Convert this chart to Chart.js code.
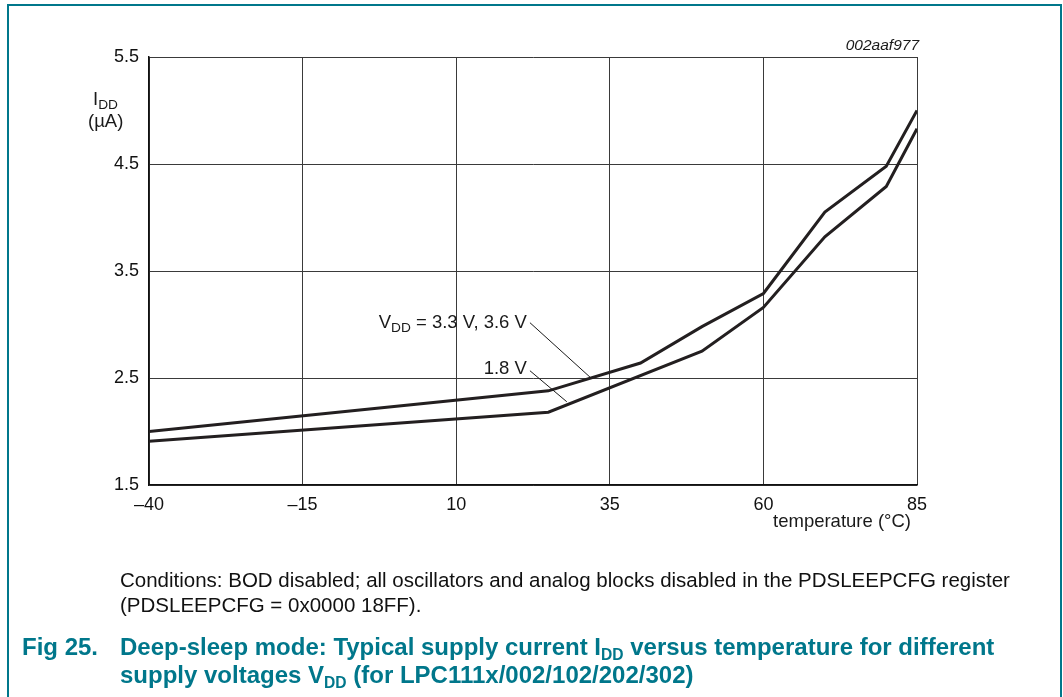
<!DOCTYPE html>
<html>
<head>
<meta charset="utf-8">
<script src="https://cdn.jsdelivr.net/npm/chart.js@4.4.1/dist/chart.umd.min.js"></script>
<style>
  body { margin: 0; background: #fff; font-family: "Liberation Sans", Arial, sans-serif; }
  #wrap { position: relative; width: 1063px; height: 697px; overflow: hidden; }
  #frame { position: absolute; left: 7px; top: 4px; width: 1055px; height: 720px;
           border: 2px solid #00778b; border-bottom: none; box-sizing: border-box; }
  #c { position: absolute; left: 0; top: 0; }
  .note { position: absolute; left: 120px; font-size: 20.5px; line-height: 25px; color: #111; white-space: nowrap; }
  .cap { position: absolute; font-size: 24px; line-height: 28px; font-weight: bold; color: #00778b; white-space: nowrap; }
  .cap sub { font-size: 65%; vertical-align: -0.35em; line-height: 0; }
</style>
</head>
<body>
<div id="wrap">
  <div id="frame"></div>
  <canvas id="c" width="1063" height="697"></canvas>
  <div class="note" style="top:567px">Conditions: BOD disabled; all oscillators and analog blocks disabled in the PDSLEEPCFG register<br>(PDSLEEPCFG = 0x0000 18FF).</div>
  <div class="cap" style="left:22px;top:633px">Fig 25.</div>
  <div class="cap" style="left:120px;top:633px">Deep-sleep mode: Typical supply current I<sub>DD</sub> versus temperature for different<br>supply voltages V<sub>DD</sub> (for LPC111x/002/102/202/302)</div>
</div>
<script>
// temperature (degC) and supply current (uA)
var temps33 = [-40, 25, 40, 50, 60, 70, 80, 85];
var idd33 = [2.0, 2.38, 2.64, 2.98, 3.29, 4.05, 4.48, 5.0];
var temps18 = [-40, 25, 50, 60, 70, 80, 85];
var idd18 = [1.91, 2.18, 2.75, 3.16, 3.82, 4.29, 4.83];

var xTicks = [-40, -15, 10, 35, 60, 85];
var yTicks = [1.5, 2.5, 3.5, 4.5, 5.5];

var lineColor = '#231f20';
var font = '"Liberation Sans", Arial, sans-serif';

function toPoints(xs, ys) {
  return xs.map(function (x, i) { return { x: x, y: ys[i] }; });
}

// text with a subscript part, right or left aligned at (x, y) baseline
function subText(ctx, parts, x, y, align, size) {
  var w = 0;
  parts.forEach(function (p) {
    ctx.font = (p.sub ? size * 0.74 : size) + 'px ' + font;
    p.w = ctx.measureText(p.t).width;
    w += p.w;
  });
  var cx = align === 'right' ? x - w : x;
  ctx.textAlign = 'left';
  ctx.textBaseline = 'alphabetic';
  parts.forEach(function (p) {
    ctx.font = (p.sub ? size * 0.74 : size) + 'px ' + font;
    ctx.fillText(p.t, cx, p.sub ? y + 4 : y);
    cx += p.w;
  });
}

var labelsPlugin = {
  id: 'labels',
  afterDatasetsDraw: function (chart) {
    var ctx = chart.ctx;
    var xs = chart.scales.x, ys = chart.scales.y;
    ctx.save();
    ctx.fillStyle = '#1a1a1a';
    ctx.strokeStyle = '#1a1a1a';
    ctx.lineWidth = 1;

    // curve labels with leader lines
    subText(ctx, [{ t: 'V' }, { t: 'DD', sub: true }, { t: ' = 3.3 V, 3.6 V' }],
      xs.getPixelForValue(21.5), ys.getPixelForValue(2.967), 'right', 18.5);
    subText(ctx, [{ t: '1.8 V' }],
      xs.getPixelForValue(21.5), ys.getPixelForValue(2.537), 'right', 18.5);
    ctx.beginPath();
    ctx.moveTo(xs.getPixelForValue(22.0), ys.getPixelForValue(3.017));
    ctx.lineTo(xs.getPixelForValue(31.8), ys.getPixelForValue(2.507));
    ctx.moveTo(xs.getPixelForValue(22.0), ys.getPixelForValue(2.568));
    ctx.lineTo(xs.getPixelForValue(28.0), ys.getPixelForValue(2.278));
    ctx.stroke();

    // axis titles
    var a = chart.chartArea;
    subText(ctx, [{ t: 'I' }, { t: 'DD', sub: true }], a.left - 56, a.top + 48, 'left', 18.5);
    subText(ctx, [{ t: '(\u00b5A)' }], a.left - 61, a.top + 70, 'left', 18.5);
    ctx.font = '18.5px ' + font;
    ctx.textAlign = 'right';
    ctx.fillText('temperature (\u00b0C)', a.right - 6, a.bottom + 42);
    ctx.font = 'italic 15.5px ' + font;
    ctx.fillText('002aaf977', a.right + 2, a.top - 7);
    ctx.restore();
  }
};

var ctx = document.getElementById('c').getContext('2d');
var chart = new Chart(ctx, {
  type: 'line',
  data: {
    datasets: [{
      label: '3.3 V, 3.6 V',
      data: toPoints(temps33, idd33),
      borderColor: lineColor,
      borderWidth: 3,
      pointRadius: 0,
      tension: 0
    }, {
      label: '1.8 V',
      data: toPoints(temps18, idd18),
      borderColor: lineColor,
      borderWidth: 3,
      pointRadius: 0,
      tension: 0
    }]
  },
  options: {
    responsive: false,
    animation: false,
    devicePixelRatio: 1,
    layout: { padding: { left: 0, right: 146, top: 57, bottom: 182 } },
    plugins: { legend: { display: false }, tooltip: { enabled: false } },
    scales: {
      x: {
        type: 'linear',
        min: -40,
        max: 85,
        afterBuildTicks: function (s) { s.ticks = xTicks.map(function (v) { return { value: v }; }); },
        afterFit: function (s) { s.height = 30; },
        grid: { color: '#3a3a3a', lineWidth: 1, drawTicks: false },
        border: { color: '#111', width: 1.5 },
        ticks: {
          color: '#111',
          padding: 9,
          maxRotation: 0,
          font: { family: font, size: 18 },
          callback: function (v) { return v < 0 ? '\u2013' + Math.abs(v) : '' + v; }
        }
      },
      y: {
        min: 1.5,
        max: 5.5,
        afterBuildTicks: function (s) { s.ticks = yTicks.map(function (v) { return { value: v }; }); },
        afterFit: function (s) { s.width = 149; },
        grid: { color: '#3a3a3a', lineWidth: 1, drawTicks: false },
        border: { color: '#111', width: 1.5 },
        ticks: {
          color: '#111',
          padding: 10,
          font: { family: font, size: 18 },
          callback: function (v) { return v.toFixed(1); }
        }
      }
    }
  },
  plugins: [labelsPlugin]
});
</script>
</body>
</html>
